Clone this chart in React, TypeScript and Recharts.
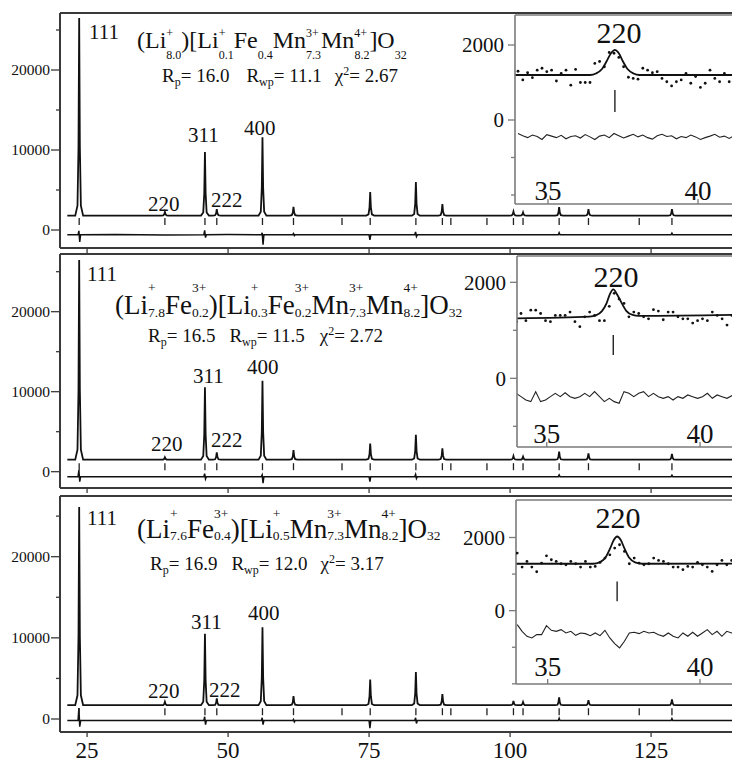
import React from 'react';
import { ComposedChart, Line, Scatter, XAxis, YAxis, ReferenceLine, CartesianGrid } from 'recharts';

const FONT = '"Liberation Serif", "Times New Roman", Times, serif';
const INK = '#111';
const FRAME = '#3a3a3a';
const INSET_FRAME = '#7a7a7a';

// ---------- main patterns (2θ in degrees, intensity in counts) ----------
const mainXTicks = [25, 50, 75, 100, 125];
const mainYTicks = [0, 5000, 10000, 15000, 20000, 25000];
const patternStart = 21.5;
const patternEnd = 140;

const braggPositions = [23.6, 38.8, 45.9, 48.0, 56.1, 61.6, 70.2, 75.2, 83.3, 88.0, 89.5, 95.9, 100.6, 102.3, 108.7, 113.9, 122.9, 128.7];
const peakPositions = [23.6, 38.8, 45.9, 48.0, 56.1, 61.6, 75.2, 83.3, 88.0, 100.6, 102.3, 108.7, 113.9, 128.7];
const peakTops1 = [26500, 2250, 9750, 2600, 11600, 2900, 4750, 6000, 3250, 2300, 2200, 2850, 2600, 2600];
const peakTops2 = [26460, 1800, 10550, 2425, 11375, 2700, 3500, 4600, 2925, 1960, 1875, 2500, 2300, 2210];
const peakTops3 = [26130, 2120, 10510, 2540, 11320, 2820, 4870, 5800, 3070, 2210, 2090, 2660, 2330, 2420];
const backgrounds = [1800, 1500, 1700];
const braggLevels = [1050, 625, 900];

// one reflection's line profile: offsets (deg) and fraction of peak height
const peakShapeOffsets = [-0.7, -0.3, -0.12, 0, 0.12, 0.3, 0.7];
const peakShapeFractions = [0, 0.05, 0.35, 1, 0.35, 0.05, 0];

const diff1: [number, number][] = [
  [21.5, -600], [23.4, -600], [23.55, -100], [23.7, -1500], [23.85, -600], [30, -560], [38.8, -640],
  [45.7, -600], [45.85, -50], [46.0, -950], [46.15, -600], [50, -570], [55.9, -600], [56.05, -350],
  [56.2, -1850], [56.35, -600], [61.45, -600], [61.6, -450], [61.75, -700], [61.9, -600], [75.0, -600], [75.15, -1250],
  [75.3, -600], [83.1, -600], [83.25, -250], [83.4, -800], [83.55, -600], [95, -600], [108.55, -600],
  [108.7, -350], [108.85, -600], [128.55, -600], [128.7, -400], [128.85, -600], [140, -600],
];
const diff2: [number, number][] = [
  [21.5, -620], [23.4, -620], [23.55, 200], [23.7, -1250], [23.85, -620], [45.7, -620], [45.85, -250],
  [46.0, -900], [46.15, -620], [55.9, -620], [56.05, -400], [56.2, -1450], [56.35, -620], [75.0, -620],
  [75.15, -1250], [75.3, -620], [83.1, -620], [83.25, -350], [83.4, -850], [83.55, -620], [108.55, -620],
  [108.7, -400], [108.85, -620], [128.55, -620], [128.7, -450], [128.85, -620], [140, -620],
];
const diff3: [number, number][] = [
  [21.5, -200], [23.4, -200], [23.55, 1350], [23.7, -940], [23.85, -200], [45.7, -200], [45.85, 280],
  [46.0, -700], [46.15, -200], [55.9, -200], [56.05, 150], [56.2, -700], [56.35, -200], [61.45, -200], [61.6, -50],
  [61.75, -350], [61.9, -200], [75.0, -200], [75.15, -1140], [75.3, -200], [83.1, -200], [83.25, 150], [83.4, -550],
  [83.55, -200], [108.55, -200], [108.7, 100], [108.85, -200], [128.55, -200], [128.7, 50], [128.85, -200],
  [140, -200],
];

// ---------- insets around the 220 reflection ----------
const insetXTicks = [35, 40];
const insetX = [
  34.0, 34.16, 34.32, 34.48, 34.64, 34.8, 34.96, 35.12, 35.28, 35.44, 35.6, 35.76, 35.92, 36.08, 36.24, 36.4,
  36.56, 36.72, 36.88, 37.04, 37.2, 37.36, 37.52, 37.68, 37.84, 38.0, 38.16, 38.32, 38.48, 38.64, 38.8, 38.96,
  39.12, 39.28, 39.44, 39.6, 39.76, 39.92, 40.08, 40.24, 40.4, 40.56, 40.72, 40.88, 41.04, 41.2,
];
const insetObs1 = [
  1300, 1070, 1260, 1130, 1330, 1380, 1290, 1330, 1040, 1240, 1330, 930, 1350, 1000, 1000, 1000,
  1510, 1560, 1420, 1800, 1780, 1670, 1420, 1140, 1110, 1090, 1380, 1330, 1260, 1290, 1110, 1020,
  910, 1020, 1070, 1240, 980, 1160, 870, 980, 1330, 1110, 1020, 1240, 1020, 1180,
];
const insetDiff1 = [
  -360, -420, -470, -400, -440, -520, -390, -430, -470, -410, -500, -440, -420, -480, -390, -450,
  -520, -430, -400, -470, -360, -420, -480, -430, -380, -450, -400, -470, -510, -420, -380, -440,
  -420, -500, -440, -470, -400, -450, -520, -470, -430, -380, -460, -430, -490, -420,
];
const insetCalc1: [number, number][] = [
  [33.9, 1200], [36.4, 1200], [36.6, 1240], [36.8, 1360], [36.95, 1560], [37.1, 1780], [37.23, 1870],
  [37.36, 1780], [37.5, 1560], [37.65, 1360], [37.85, 1240], [38.05, 1200], [42.0, 1200],
];
const insetObs2 = [
  1180, 1350, 1200, 1420, 1420, 1350, 1200, 1180, 1310, 1310, 1310, 1380, 1180, 1075, 1280, 1380,
  1310, 1200, 1200, 1500, 1770, 1650, 1560, 1280, 1380, 1350, 1280, 1240, 1430, 1400, 1220, 1380,
  1380, 1280, 1240, 1240, 1150, 1200, 1240, 1200, 1380, 1310, 1240, 1110, 1310, 1380,
];
const insetDiff2 = [
  -313, -382, -452, -486, -278, -486, -452, -382, -313, -382, -300, -382, -417, -382, -313, -382,
  -278, -382, -486, -417, -486, -521, -278, -313, -382, -313, -278, -382, -313, -382, -417, -382,
  -452, -382, -417, -347, -382, -417, -382, -313, -417, -347, -382, -417, -360, -382,
];
const insetCalc2: [number, number][] = [
  [34.0, 1250], [36.4, 1285], [36.6, 1310], [36.8, 1400], [36.95, 1560], [37.05, 1740], [37.17, 1854],
  [37.3, 1740], [37.45, 1560], [37.6, 1400], [37.8, 1320], [38.0, 1300], [42.0, 1330],
];
const insetObs3 = [
  1574, 1192, 1345, 1192, 1064, 1300, 1500, 1391, 1345, 1282, 1255, 1345, 1282, 1192, 1345, 1192,
  1210, 1319, 1437, 1527, 1710, 1801, 1619, 1282, 1437, 1300, 1255, 1282, 1437, 1373, 1345, 1282,
  1192, 1192, 1119, 1210, 1192, 1319, 1255, 1192, 1073, 1255, 1373, 1255, 1373, 1282,
];
const insetDiff3 = [
  -383, -565, -701, -746, -656, -656, -410, -537, -565, -519, -610, -565, -674, -610, -628, -683,
  -610, -683, -537, -746, -901, -1019, -837, -610, -592, -628, -565, -610, -592, -656, -701, -610,
  -701, -746, -610, -701, -592, -701, -610, -519, -656, -565, -701, -565, -610, -592,
];
const insetCalc3: [number, number][] = [
  [33.9, 1282], [36.5, 1282], [36.7, 1320], [36.9, 1450], [37.05, 1700], [37.17, 1930], [37.28, 2027],
  [37.4, 1930], [37.52, 1700], [37.67, 1450], [37.87, 1320], [38.1, 1282], [42.0, 1290],
];
const insetBragg = [
  { x: 37.23, from: 800, to: 213 },
  { x: 37.17, from: 900, to: 485 },
  { x: 37.28, from: 800, to: 254 },
];

// ---------- text ----------
type Tok = { t?: string; dx?: number; sup?: string; sub?: string };
const formula1: Tok[] = [
  { t: '(Li' }, { sup: '+', sub: '8.0' }, { t: ')[Li' }, { sup: '+', sub: '0.1' }, { t: 'Fe' }, { sub: '0.4' },
  { t: 'Mn' }, { sup: '3+', sub: '7.3' }, { t: 'Mn' }, { sup: '4+', sub: '8.2' }, { t: ']O' }, { sub: '32' },
];
const formula2: Tok[] = [
  { t: '(Li' }, { sup: '+', sub: '7.8' }, { t: 'Fe' }, { sup: '3+', sub: '0.2' }, { t: ')[Li' }, { sup: '+', sub: '0.3' },
  { t: 'Fe' }, { sup: '3+', sub: '0.2' }, { t: 'Mn' }, { sup: '3+', sub: '7.3' }, { t: 'Mn' }, { sup: '4+', sub: '8.2' },
  { t: ']O' }, { sub: '32' },
];
const formula3: Tok[] = [
  { t: '(Li' }, { sup: '+', sub: '7.6' }, { t: 'Fe' }, { sup: '3+', sub: '0.4' }, { t: ')[Li' }, { sup: '+', sub: '0.5' },
  { t: 'Mn' }, { sup: '3+', sub: '7.3' }, { t: 'Mn' }, { sup: '4+', sub: '8.2' }, { t: ']O' }, { sub: '32' },
];
const fitStats = [
  { rp: '16.0', rwp: '11.1', chi2: '2.67' },
  { rp: '16.5', rwp: '11.5', chi2: '2.72' },
  { rp: '16.9', rwp: '12.0', chi2: '3.17' },
];
const hklLabels = ['111', '311', '400', '220', '222'];

// ---------- helpers ----------
const toPoints = (pairs: [number, number][]) => pairs.map(([x, y]) => ({ x, y }));
const zipPoints = (xs: number[], ys: number[]) => xs.map((x, i) => ({ x, y: ys[i] }));

function buildProfile(base: number, tops: number[]) {
  const pts: { x: number; y: number }[] = [{ x: patternStart, y: base }];
  peakPositions.forEach((p, i) => {
    peakShapeOffsets.forEach((o, j) => {
      pts.push({ x: p + o, y: base + (tops[i] - base) * peakShapeFractions[j] });
    });
  });
  pts.push({ x: patternEnd, y: base });
  return pts;
}

const charW = (s: string, size: number) =>
  s.split('').reduce((w, c) => w + (c === '+' ? 0.564 : c === '.' ? 0.25 : 0.5), 0) * size;

function RichText({ x, y, size, small, toks, rise, drop }: { x: number; y: number; size: number; small: number; toks: Tok[]; rise: number; drop: number }) {
  const parts: React.ReactNode[] = [];
  let cur = 0;
  toks.forEach((tk, i) => {
    if (tk.t !== undefined) {
      parts.push(<tspan key={i} dx={tk.dx || 0} dy={-cur} fontSize={size}>{tk.t}</tspan>);
      cur = 0;
    } else {
      if (tk.sup) {
        parts.push(<tspan key={i + 's'} dy={-rise - cur} fontSize={small}>{tk.sup}</tspan>);
        cur = -rise;
      }
      if (tk.sub) {
        parts.push(
          <tspan key={i + 'b'} dx={tk.sup ? -charW(tk.sup, small) : 0} dy={drop - cur} fontSize={small}>{tk.sub}</tspan>
        );
        cur = drop;
      }
    }
  });
  return <text x={x} y={y} fontFamily={FONT} fill={INK} xmlSpace="preserve">{parts}</text>;
}

function statToks(s: { rp: string; rwp: string; chi2: string }, g1: number, g2: number): Tok[] {
  return [
    { t: 'R' }, { sub: 'p' }, { t: '= ' + s.rp }, { t: 'R', dx: g1 }, { sub: 'wp' }, { t: '= ' + s.rwp },
    { t: 'χ', dx: g2 }, { sup: '2' }, { t: '= ' + s.chi2 },
  ];
}

// ---------- ticks ----------
const MainYTick = (props: any) => {
  const { x, y, payload } = props;
  const v = payload.value;
  const major = v % 10000 === 0;
  const len = major ? 9 : 4;
  return (
    <g>
      <line x1={x - len} x2={x} y1={y} y2={y} stroke={FRAME} strokeWidth={1.3} />
      {major && (
        <text x={x - len - 1} y={y} dy="0.35em" textAnchor="end" fontSize={15.5} fontFamily={FONT} fill={INK}>{v}</text>
      )}
    </g>
  );
};

const makeMainXTick = (showLabel: boolean) => (props: any) => {
  const { x, y, payload } = props;
  return (
    <g>
      <line x1={x} x2={x} y1={y} y2={y + 5} stroke={FRAME} strokeWidth={1.3} />
      {showLabel && (
        <text x={x} y={y + 26} textAnchor="middle" fontSize={23} fontFamily={FONT} fill={INK}>{payload.value}</text>
      )}
    </g>
  );
};

const makeInsetXTick = (lift: number) => (props: any) => {
  const { x, y, payload } = props;
  return (
    <g>
      <line x1={x} x2={x} y1={y} y2={y - 5} stroke={INSET_FRAME} strokeWidth={1.3} />
      <text x={x} y={y - lift} textAnchor="middle" fontSize={27} fontFamily={FONT} fill={INK}>{payload.value}</text>
    </g>
  );
};

const InsetYTick = (props: any) => {
  const { x, y, payload } = props;
  const v = payload.value;
  const major = v === 0 || v === 2000;
  const len = major ? 7 : 4;
  return (
    <g>
      <line x1={x - len} x2={x} y1={y} y2={y} stroke={INSET_FRAME} strokeWidth={1.3} />
      {major && (
        <text x={x - 11} y={y} dy="0.35em" textAnchor="end" fontSize={21} fontFamily={FONT} fill={INK}>{v}</text>
      )}
    </g>
  );
};

const BraggMark = (props: any) => (
  <line x1={props.cx} x2={props.cx} y1={props.cy - 3.5} y2={props.cy + 3.5} stroke="#222" strokeWidth={1.3} />
);
const ObsDot = (props: any) => <circle cx={props.cx} cy={props.cy} r={1.4} fill="#111" />;

// frame: three edges (the right edge lies outside the picture)
function frameLines(xMin: number, yMin: number, yMax: number, stroke: string, w: number) {
  return [
    <ReferenceLine key="ft" y={yMax} stroke={stroke} strokeWidth={w} ifOverflow="visible" />,
    <ReferenceLine key="fb" y={yMin} stroke={stroke} strokeWidth={w} ifOverflow="visible" />,
    <ReferenceLine key="fl" x={xMin} stroke={stroke} strokeWidth={w} ifOverflow="visible" />,
  ];
}

// ---------- panels ----------
const X_DOMAIN: [number, number] = [20.2, 140];
const PX_PER_DEG = 5.64;
const PLOT_LEFT = 60;
const PAGE_W = 732;

function MainPanel({ top, height, yDomain, tops, base, diff, braggLevel, showLabels }: any) {
  const mt = 10;
  const xAxisH = showLabels ? 40 : 10;
  const plotW = (X_DOMAIN[1] - X_DOMAIN[0]) * PX_PER_DEG;
  const width = 760;
  const profile = buildProfile(base, tops);
  const bragg = braggPositions.map((x) => ({ x, y: braggLevel }));
  return (
    <div style={{ position: 'absolute', left: 0, top: top - mt }}>
      <ComposedChart
        width={width}
        height={mt + height + xAxisH}
        margin={{ top: mt, right: width - PLOT_LEFT - plotW, bottom: 0, left: 0 }}
      >
        <XAxis
          type="number" dataKey="x" domain={X_DOMAIN} ticks={mainXTicks} interval={0} allowDataOverflow
          height={xAxisH} tickSize={0} tickMargin={0} tickLine={false} axisLine={false}
          tick={makeMainXTick(showLabels)}
        />
        <YAxis
          type="number" dataKey="y" domain={yDomain} ticks={mainYTicks} interval={0} allowDataOverflow width={PLOT_LEFT}
          tickSize={0} tickMargin={0} tickLine={false} axisLine={false} tick={MainYTick}
        />
        <Line data={profile} dataKey="y" type="linear" stroke="#111" strokeWidth={1.8} dot={false} isAnimationActive={false} />
        <Line data={toPoints(diff)} dataKey="y" type="linear" stroke="#111" strokeWidth={1.5} dot={false} isAnimationActive={false} />
        <Scatter data={bragg} dataKey="y" shape={BraggMark} isAnimationActive={false} />
        {frameLines(X_DOMAIN[0], yDomain[0], yDomain[1], FRAME, 2)}
      </ComposedChart>
    </div>
  );
}

function Inset({ left, top, height, xMin, pxPerDeg, yDomain, yTicks, obs, calc, diff, bragg, labelLift }: any) {
  const axisW = 60;
  const mt = 5;
  const plotW = PAGE_W + 2 - left; // plot runs just past the right edge of the picture
  const xMax = xMin + plotW / pxPerDeg;
  return (
    <div style={{ position: 'absolute', left: left - axisW, top: top - mt }}>
      <ComposedChart width={axisW + plotW} height={mt + height + 2} margin={{ top: mt, right: 0, bottom: 1, left: 0 }}>
        <CartesianGrid fill="#fff" fillOpacity={1} horizontal={false} vertical={false} />
        <XAxis
          type="number" dataKey="x" domain={[xMin, xMax]} ticks={insetXTicks} interval={0} allowDataOverflow
          height={1} tickSize={0} tickMargin={0} tickLine={false} axisLine={false}
          tick={makeInsetXTick(labelLift)}
        />
        <YAxis
          type="number" dataKey="y" domain={yDomain} ticks={yTicks} interval={0} allowDataOverflow width={axisW}
          tickSize={0} tickMargin={0} tickLine={false} axisLine={false} tick={InsetYTick}
        />
        <Line data={toPoints(calc)} dataKey="y" type="monotone" stroke="#111" strokeWidth={1.8} dot={false} isAnimationActive={false} />
        <Line data={zipPoints(insetX, diff)} dataKey="y" type="linear" stroke="#222" strokeWidth={1.1} dot={false} isAnimationActive={false} />
        <Scatter data={zipPoints(insetX, obs)} dataKey="y" shape={ObsDot} isAnimationActive={false} />
        <ReferenceLine segment={[{ x: bragg.x, y: bragg.from }, { x: bragg.x, y: bragg.to }]} stroke="#222" strokeWidth={1.4} />
        {frameLines(xMin, yDomain[0], yDomain[1], INSET_FRAME, 1.6)}
      </ComposedChart>
    </div>
  );
}

export default function App() {
  const hklPos1 = [[89, 39], [188, 142], [244, 135], [148, 211], [211, 207]];
  const hklPos2 = [[87, 281], [193, 383], [247, 374], [151, 451], [211, 447]];
  const hklPos3 = [[87, 525], [191, 629], [248, 620], [148, 698], [209, 697]];
  const allHkl = [hklPos1, hklPos2, hklPos3];
  return (
    <div style={{ position: 'absolute', left: 0, top: 0, width: PAGE_W, height: 763, overflow: 'hidden', background: '#fff' }}>
      <MainPanel top={13} height={235} yDomain={[-2250, 27125]} tops={peakTops1} base={backgrounds[0]} diff={diff1} braggLevel={braggLevels[0]} showLabels={false} />
      <MainPanel top={254} height={234} yDomain={[-2040, 27210]} tops={peakTops2} base={backgrounds[1]} diff={diff2} braggLevel={braggLevels[1]} showLabels={false} />
      <MainPanel top={496} height={236} yDomain={[-1602, 27480]} tops={peakTops3} base={backgrounds[2]} diff={diff3} braggLevel={braggLevels[2]} showLabels={true} />

      <Inset left={515} top={15} height={189} xMin={33.9} pxPerDeg={30} yDomain={[-2240, 2800]} yTicks={[-2000, -1000, 0, 2000]}
        obs={insetObs1} calc={insetCalc1} diff={insetDiff1} bragg={insetBragg[0]} labelLift={4} />
      <Inset left={517} top={256} height={191} xMin={34.03} pxPerDeg={30.66} yDomain={[-1431, 2548]} yTicks={[-1000, 0, 1000, 2000]}
        obs={insetObs2} calc={insetCalc2} diff={insetDiff2} bragg={insetBragg[1]} labelLift={4} />
      <Inset left={516} top={500} height={184} xMin={33.96} pxPerDeg={30.46} yDomain={[-2005, 3025]} yTicks={[-2000, -1000, 0, 1000, 2000]}
        obs={insetObs3} calc={insetCalc3} diff={insetDiff3} bragg={insetBragg[2]} labelLift={8} />

      <svg width={PAGE_W} height={763} style={{ position: 'absolute', left: 0, top: 0, pointerEvents: 'none' }}>
        <RichText x={137} y={48} size={24} small={12} toks={formula1} rise={11} drop={11} />
        <RichText x={115} y={314} size={27} small={13.5} toks={formula2} rise={22} drop={3} />
        <RichText x={137} y={538} size={27} small={13.5} toks={formula3} rise={20} drop={2} />
        <RichText x={162} y={82} size={19} small={12} toks={statToks(fitStats[0], 17, 13)} rise={7} drop={4} />
        <RichText x={148} y={342} size={19} small={12} toks={statToks(fitStats[1], 14, 15)} rise={7} drop={4} />
        <RichText x={150} y={570} size={19} small={12} toks={statToks(fitStats[2], 14, 13)} rise={7} drop={4} />
        {allHkl.map((pos, p) =>
          hklLabels.map((lab, i) => (
            <text key={p + '-' + i} x={pos[i][0]} y={pos[i][1]} fontSize={21} fontFamily={FONT} fill={INK}>{lab}</text>
          ))
        )}
        <text x={619} y={43} textAnchor="middle" fontSize={30} fontFamily={FONT} fill={INK}>220</text>
        <text x={616} y={287} textAnchor="middle" fontSize={30} fontFamily={FONT} fill={INK}>220</text>
        <text x={618} y={528} textAnchor="middle" fontSize={30} fontFamily={FONT} fill={INK}>220</text>
      </svg>
    </div>
  );
}
